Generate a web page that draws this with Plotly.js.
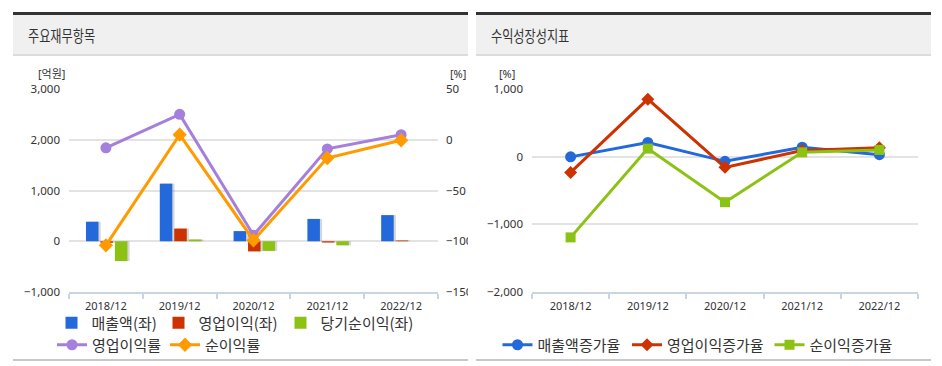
<!DOCTYPE html>
<html><head><meta charset="utf-8">
<script src="https://cdn.plot.ly/plotly-3.0.1.min.js"></script>
<style>
html,body{margin:0;padding:0;background:#fff;width:942px;height:366px;overflow:hidden;font-family:"Noto Sans CJK KR","Noto Sans",sans-serif;}
.hdr{position:absolute;top:12px;height:39px;border-top:3px solid #333;border-bottom:2px solid #dcdcdc;background:#f0f0f0;}
.hdr span{position:absolute;left:15px;top:8px;font-size:16px;color:#333;display:inline-block;transform:scaleX(0.76);transform-origin:left center;white-space:nowrap;}
.plot{position:absolute;top:0;height:366px;overflow:hidden;}
.bl{position:absolute;top:359px;height:2px;background:#c8c8c8;}
</style></head><body>
<div class="hdr" style="left:13px;width:455px;"><span>주요재무항목</span></div>
<div class="hdr" style="left:476px;width:455px;"><span>수익성장성지표</span></div>
<div id="c1" class="plot" style="left:13px;width:455px;"></div>
<div id="c2" class="plot" style="left:476px;width:455px;"></div>
<div class="bl" style="left:13px;width:455px;"></div>
<div class="bl" style="left:476px;width:455px;"></div>
<script>
// ---- data ----
const years = ['2018/12','2019/12','2020/12','2021/12','2022/12'];
const sales = [385, 1135, 200, 440, 515];
const opProfit = [-30, 250, -200, -25, 15];
const netProfit = [-390, 35, -190, -80, 0];
const opMargin = [-8, 25, -94, -9, 5];
const netMargin = [-104, 5, -99, -18, -0.5];

const salesGrowth = [-3, 210, -69, 140, 30];
const opGrowth = [-233, 850, -158, 90, 130];
const netGrowth = [-1193, 119, -673, 64, 100];

const fontNum = {family:'"Noto Sans","Noto Sans CJK KR",sans-serif', size:11.5, color:'#333'};
const fontKr = {family:'"Noto Sans CJK KR",sans-serif', size:15, color:'#333'};
const C = {blue:'#2369db', red:'#cc3300', green:'#8cc214', purple:'#a57fdc', orange:'#ff9a00'};

const W = 455, H = 366;
// legend placement helper: symbol centre (page px) and row centre (page px)
function leg(divLeft, cx, cy){
  return {orientation:'h', xref:'container', yref:'container',
    x:(cx - divLeft - 24)/W, xanchor:'left', y:1 - cy/H, yanchor:'middle',
    font:fontKr, itemwidth:30, bgcolor:'rgba(0,0,0,0)', borderwidth:0};
}

const bw = 0.17;
const offs = [-0.27, -0.074, 0.122];
const barSeries = [
  {name:'매출액(좌)', y:sales, color:C.blue, legend:'legend'},
  {name:'영업이익(좌)', y:opProfit, color:C.red, legend:'legend2'},
  {name:'당기순이익(좌)', y:netProfit, color:C.green, legend:'legend3'}
];
const traces1 = [];
barSeries.forEach((s,i)=>{
  traces1.push({type:'bar', x:years, y:s.y, width:bw, offset:offs[i]+0.03,
    marker:{color:'rgba(110,110,110,0.28)'}, showlegend:false, hoverinfo:'skip'});
});
barSeries.forEach((s,i)=>{
  traces1.push({type:'bar', x:years, y:s.y, name:s.name, width:bw, offset:offs[i],
    marker:{color:s.color}, legend:s.legend});
});
traces1.push({type:'scatter', mode:'lines+markers', x:years, y:opMargin, name:'영업이익률', yaxis:'y2', legend:'legend4',
  line:{color:C.purple, width:3}, marker:{symbol:'circle', size:11, color:C.purple}});
traces1.push({type:'scatter', mode:'lines+markers', x:years, y:netMargin, name:'순이익률', yaxis:'y2', legend:'legend5',
  line:{color:C.orange, width:3}, marker:{symbol:'diamond', size:11, color:C.orange}});

const xax = {type:'category', range:[-0.5,4.5], showgrid:false, showline:true, linecolor:'#c9d5e2', linewidth:2,
  ticks:'outside', tickson:'boundaries', ticklen:5, tickcolor:'#c9d5e2', tickwidth:2, tickfont:{...fontNum, size:11},
  ticklabelstandoff:3, zeroline:false, fixedrange:true};

const layout1 = {
  width:W, height:H, margin:{l:56, r:30, t:89, b:74},
  paper_bgcolor:'rgba(0,0,0,0)', plot_bgcolor:'rgba(0,0,0,0)',
  barmode:'overlay', showlegend:true,
  xaxis:xax,
  yaxis:{range:[-1000,3000], dtick:1000, tickformat:',d', gridcolor:'#e3e3e3', gridwidth:2, zeroline:false,
    tickfont:fontNum, ticklabelstandoff:8},
  yaxis2:{range:[-150,50], dtick:50, overlaying:'y', side:'right', showgrid:false, zeroline:false,
    tickfont:fontNum, ticklabelstandoff:7},
  legend:leg(13, 75.5, 323),
  legend2:leg(13, 182.5, 323),
  legend3:leg(13, 304.5, 323),
  legend4:leg(13, 76, 345),
  legend5:leg(13, 189, 345),
  annotations:[
    {xref:'paper', yref:'paper', x:0, y:1, xshift:-2, yshift:16, xanchor:'right', yanchor:'middle', text:'[억원]', showarrow:false, font:{...fontNum, size:11}},
    {xref:'paper', yref:'paper', x:1, y:1, xshift:10, yshift:16, xanchor:'left', yanchor:'middle', text:'[%]', showarrow:false, font:{...fontNum, size:11}}
  ]
};

const traces2 = [
  {type:'scatter', mode:'lines+markers', x:years, y:salesGrowth, name:'매출액증가율', legend:'legend',
    line:{color:C.blue, width:3}, marker:{symbol:'circle', size:11, color:C.blue}},
  {type:'scatter', mode:'lines+markers', x:years, y:opGrowth, name:'영업이익증가율', legend:'legend2',
    line:{color:C.red, width:3}, marker:{symbol:'diamond', size:10, color:C.red}},
  {type:'scatter', mode:'lines+markers', x:years, y:netGrowth, name:'순이익증가율', legend:'legend3',
    line:{color:C.green, width:3}, marker:{symbol:'square', size:10, color:C.green}}
];
const layout2 = {
  width:W, height:H, margin:{l:56, r:13, t:89, b:74},
  paper_bgcolor:'rgba(0,0,0,0)', plot_bgcolor:'rgba(0,0,0,0)',
  showlegend:true,
  xaxis:xax,
  yaxis:{range:[-2000,1000], dtick:1000, tickformat:',d', gridcolor:'#e3e3e3', gridwidth:2, zeroline:false,
    tickfont:fontNum, ticklabelstandoff:8},
  legend:leg(476, 521.5, 345),
  legend2:leg(476, 651, 345),
  legend3:leg(476, 793.5, 345),
  annotations:[
    {xref:'paper', yref:'paper', x:0, y:1, xshift:-15, yshift:16, xanchor:'right', yanchor:'middle', text:'[%]', showarrow:false, font:{...fontNum, size:11}}
  ]
};
const cfg = {displayModeBar:false, staticPlot:true};
Plotly.newPlot('c1', traces1, layout1, cfg);
Plotly.newPlot('c2', traces2, layout2, cfg);
</script>
</body></html>
